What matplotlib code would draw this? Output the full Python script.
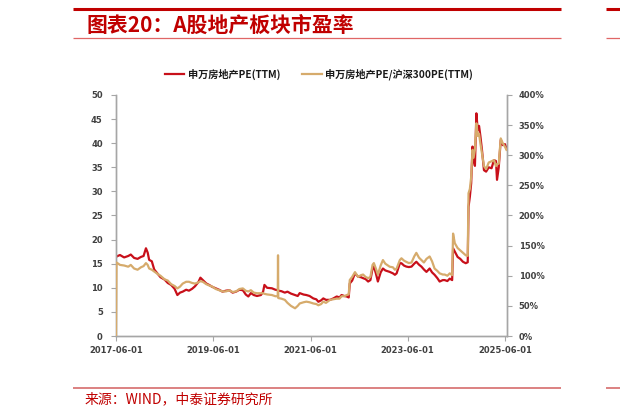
import matplotlib
matplotlib.use("Agg")
import matplotlib.pyplot as plt
from matplotlib.lines import Line2D
import pandas as pd

plt.rcParams['font.family'] = ['Noto Sans CJK SC', 'DejaVu Sans']

dates = [
    "2017-06-01", "2017-06-05", "2017-07-01", "2017-08-01", "2017-09-01", "2017-09-20",
    "2017-10-15", "2017-11-10", "2017-12-05", "2017-12-25", "2018-01-12", "2018-01-25",
    "2018-02-05", "2018-02-25", "2018-03-15", "2018-04-10", "2018-05-01", "2018-06-01",
    "2018-06-25", "2018-07-20", "2018-08-15", "2018-09-05", "2018-09-25", "2018-10-15",
    "2018-11-10", "2018-12-01", "2018-12-25", "2019-01-15", "2019-02-10", "2019-02-25",
    "2019-03-15", "2019-04-10", "2019-05-01", "2019-05-25", "2019-06-20", "2019-07-15",
    "2019-08-10", "2019-09-05", "2019-10-01", "2019-10-25", "2019-11-20", "2019-12-15",
    "2020-01-10", "2020-02-01", "2020-02-20", "2020-03-10", "2020-04-01", "2020-04-25",
    "2020-05-25", "2020-06-10", "2020-06-20", "2020-07-10", "2020-08-15", "2020-09-10",
    "2020-09-28", "2020-09-30", "2020-10-02", "2020-10-25", "2020-11-20", "2020-12-10",
    "2021-01-05", "2021-02-05", "2021-02-25", "2021-03-12", "2021-04-10", "2021-05-01",
    "2021-05-25", "2021-06-22", "2021-07-15", "2021-07-30", "2021-08-20", "2021-09-05",
    "2021-09-25", "2021-10-26", "2021-11-20", "2021-12-15", "2022-01-05", "2022-01-20",
    "2022-02-10", "2022-02-28", "2022-03-15", "2022-03-23", "2022-04-10", "2022-05-01",
    "2022-05-25", "2022-06-15", "2022-07-01", "2022-07-20", "2022-08-08", "2022-08-25",
    "2022-09-10", "2022-09-20", "2022-10-05", "2022-10-20", "2022-11-10", "2022-11-27",
    "2022-12-15", "2023-01-17", "2023-02-10", "2023-02-25", "2023-03-10", "2023-04-03",
    "2023-04-15", "2023-05-05", "2023-05-22", "2023-06-10", "2023-06-30", "2023-07-20",
    "2023-08-05", "2023-08-25", "2023-09-12", "2023-10-01", "2023-10-20", "2023-11-13",
    "2023-12-01", "2023-12-20", "2024-01-10", "2024-01-27", "2024-02-20", "2024-03-05",
    "2024-03-25", "2024-04-12", "2024-04-30", "2024-05-07", "2024-05-20", "2024-06-10",
    "2024-06-30", "2024-07-20", "2024-08-10", "2024-08-25", "2024-08-31", "2024-09-10",
    "2024-09-20", "2024-09-30", "2024-10-08", "2024-10-18", "2024-10-29", "2024-11-08",
    "2024-11-18", "2024-11-28", "2024-12-10", "2024-12-25", "2025-01-10", "2025-01-30",
    "2025-02-20", "2025-03-10", "2025-03-25", "2025-04-02", "2025-04-15", "2025-04-30",
    "2025-05-15", "2025-06-01", "2025-06-12",
]

pe_ttm = [
    16.3, 16.5, 16.8, 16.3, 16.6, 16.9,
    16.2, 16.0, 16.4, 16.6, 18.2, 17.3,
    15.8, 15.5, 13.8, 12.9, 12.2, 11.7,
    11.0, 10.6, 9.8, 8.5, 9.0, 9.2,
    9.6, 9.4, 9.8, 10.3, 11.2, 12.1,
    11.6, 10.9, 10.6, 10.2, 9.9, 9.6,
    9.2, 9.4, 9.5, 9.0, 9.2, 9.6,
    9.5, 8.6, 8.2, 8.9, 8.5, 8.3,
    8.5, 9.2, 10.6, 10.0, 9.9, 9.6,
    9.5, 9.5, 9.4, 9.3, 9.0, 9.2,
    8.8, 8.5, 8.3, 8.9, 8.6, 8.5,
    8.3, 7.8, 7.6, 7.1, 7.4, 7.8,
    7.5, 7.5, 7.8, 8.2, 8.0, 8.5,
    8.3, 8.2, 8.0, 10.9, 11.5, 13.0,
    12.3, 12.2, 12.0, 11.8, 11.3, 11.6,
    14.0, 14.4, 13.0, 11.3, 13.2, 14.0,
    13.6, 13.3, 13.0, 12.7, 13.0, 15.1,
    15.1, 14.6, 14.4, 14.3, 14.4, 15.0,
    15.4, 14.8, 14.4, 13.8, 13.3, 14.0,
    13.2, 12.7, 12.0, 11.3, 11.6, 11.6,
    11.4, 11.9, 11.6, 18.2, 17.5, 16.4,
    16.0, 15.4, 15.1, 15.3, 26.8, 28.9,
    31.7, 39.3, 36.5, 35.3, 46.2, 42.7,
    43.6, 41.5, 38.6, 34.4, 34.1, 35.0,
    34.8, 36.5, 36.3, 32.4, 35.0, 40.7,
    39.6, 39.8, 38.9,
]

pe_ratio_pct = [
    0, 122, 118, 117, 115, 118,
    112, 110, 114, 116, 121, 118,
    112, 110, 107, 103, 100, 94,
    92, 86, 83, 79, 82, 87,
    90, 90, 88, 87, 89, 91,
    90, 86, 84, 82, 78, 76,
    74, 74, 76, 73, 74, 78,
    79, 75, 74, 76, 72, 71,
    71, 71, 70, 69, 68, 66,
    66, 134, 63, 62, 60, 55,
    50, 46, 50, 54, 56, 57,
    56, 54, 53, 51, 53, 57,
    55, 60, 61, 62, 62, 66,
    66, 68, 69, 93, 98, 106,
    98, 101, 102, 98, 96, 98,
    118, 121, 112, 102, 117, 126,
    120, 115, 114, 110, 112, 126,
    129, 125, 123, 121, 122, 132,
    138, 130, 126, 122, 128, 132,
    124, 112, 108, 104, 102, 102,
    100, 104, 101, 170, 154, 146,
    142, 138, 134, 133, 237, 244,
    264, 309, 296, 309, 353, 332,
    336, 320, 303, 282, 277, 288,
    290, 292, 282, 285, 286, 328,
    320, 314, 309,
]

left_ticks = [0, 5, 10, 15, 20, 25, 30, 35, 40, 45, 50]
right_ticks = [0, 50, 100, 150, 200, 250, 300, 350, 400]
x_tick_labels = ["2017-06-01", "2019-06-01", "2021-06-01", "2023-06-01", "2025-06-01"]

series1_name = "申万房地产PE(TTM)"
series2_name = "申万房地产PE/沪深300PE(TTM)"
title_text = "图表20：A股地产板块市盈率"
source_text = "来源：WIND，中泰证券研究所"

RED = "#C8101A"
TAN = "#D6AB6C"
AXIS = "#A6A6A6"
LABEL = "#404040"
W, H = 620, 415

x = pd.to_datetime(dates)

fig = plt.figure(figsize=(6.2, 4.15), dpi=100)
fig.patch.set_facecolor("white")


def hline(y, x0, x1, lw, color):
    fig.add_artist(Line2D([x0 / W, x1 / W], [1 - y / H, 1 - y / H], lw=lw, color=color,
                          transform=fig.transFigure, solid_capstyle="butt"))


hline(8.7, 73, 561, 2.2, "#C00000")
hline(8.7, 606, 620, 2.2, "#C00000")
hline(37.8, 73, 561, 0.9, "#E06666")
hline(37.8, 606, 620, 0.9, "#E06666")
hline(387.8, 73, 561, 1.3, "#D97777")
hline(387.8, 606, 620, 1.3, "#D97777")

fig.text(86 / W, 1 - 25 / H, title_text, color="#C00000", fontsize=15,
         fontweight="bold", style="italic", ha="left", va="center",
         family=["Noto Sans CJK SC", "DejaVu Sans"])
fig.text(85 / W, 1 - 399.6 / H, source_text, color="#C00000", fontsize=10,
         ha="left", va="center", family=["Noto Sans CJK SC", "DejaVu Sans"])

ax = fig.add_axes([116 / W, 1 - 336 / H, (507 - 116) / W, (336 - 95) / H])
ax2 = ax.twinx()

l1, = ax.plot(x, pe_ttm, color=RED, lw=1.6, zorder=2)
l2, = ax2.plot(x, pe_ratio_pct, color=TAN, lw=1.6, zorder=3)

ax.set_ylim(0, 50)
ax2.set_ylim(0, 400)
ax.set_xlim(pd.Timestamp("2017-06-01"), pd.Timestamp("2025-06-16"))

ax.set_yticks(left_ticks)
ax.set_yticklabels([str(t) for t in left_ticks])
ax2.set_yticks(right_ticks)
ax2.set_yticklabels([f"{t}%" for t in right_ticks])
ax.set_xticks(pd.to_datetime(x_tick_labels))
ax.set_xticklabels(x_tick_labels)

for a in (ax, ax2):
    a.set_facecolor("none")
    a.spines["top"].set_visible(False)
    for s in ("left", "right", "bottom"):
        a.spines[s].set_color(AXIS)
        a.spines[s].set_linewidth(1.0)

ax.tick_params(axis="y", which="major", direction="out", length=3.5, width=0.8,
               color=AXIS, labelcolor=LABEL, pad=6)
ax2.tick_params(axis="y", which="major", direction="out", length=3.5, width=0.8,
                color=AXIS, labelcolor=LABEL, pad=5)
ax.tick_params(axis="x", which="major", direction="out", length=3.5, width=0.8,
               color=AXIS, labelcolor=LABEL, pad=4)
for lab in ax.get_yticklabels() + ax.get_xticklabels() + ax2.get_yticklabels():
    lab.set_fontfamily("DejaVu Sans")
    lab.set_fontweight("bold")
    lab.set_fontsize(6)

leg = fig.legend([l1, l2], [series1_name, series2_name], loc="center",
                 bbox_to_anchor=(319 / W, 1 - 74.3 / H), ncol=2, frameon=False,
                 handlelength=1.9, handletextpad=0.35, columnspacing=2.2,
                 prop=dict(family=["Noto Sans CJK SC", "DejaVu Sans"], weight="bold", size=7.3))
for t in leg.get_texts():
    t.set_color("#1A1A1A")

fig.savefig("out.png", dpi=100, facecolor="white")
